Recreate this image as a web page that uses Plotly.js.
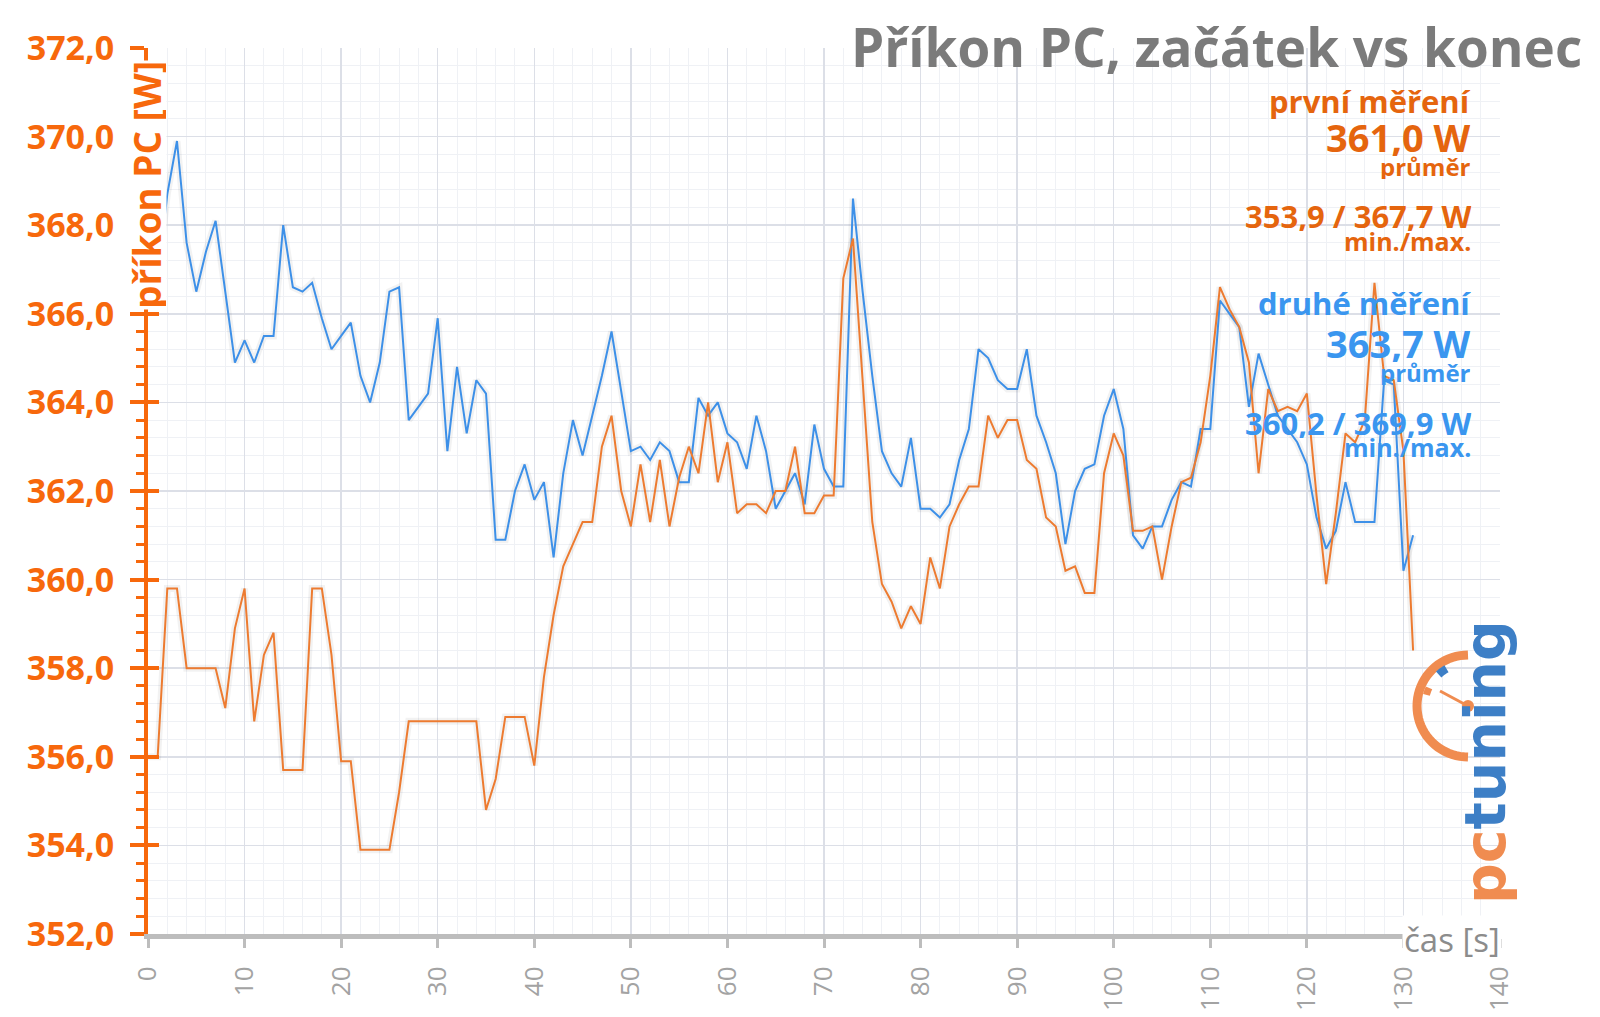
<!DOCTYPE html>
<html><head><meta charset="utf-8">
<script src="https://cdn.plot.ly/plotly-3.0.1.min.js"></script>
<style>html,body{margin:0;padding:0;background:#fff}#chart{width:1600px;height:1017px}</style>
</head><body><div id="chart"></div>
<script>
// time axis [s]
const timeSec = [0,1,2,3,4,5,6,7,8,9,10,11,12,13,14,15,16,17,18,19,20,21,22,23,24,25,26,27,28,29,30,31,32,33,34,35,36,37,38,39,40,41,42,43,44,45,46,47,48,49,50,51,52,53,54,55,56,57,58,59,60,61,62,63,64,65,66,67,68,69,70,71,72,73,74,75,76,77,78,79,80,81,82,83,84,85,86,87,88,89,90,91,92,93,94,95,96,97,98,99,100,101,102,103,104,105,106,107,108,109,110,111,112,113,114,115,116,117,118,119,120,121,122,123,124,125,126,127,128,129,130,131];

// první měření (first measurement) [W]
const prvniMereni = [356.0,356.0,359.8,359.8,358.0,358.0,358.0,358.0,357.1,358.9,
359.8,356.8,358.3,358.8,355.7,355.7,355.7,359.8,359.8,358.3,
355.9,355.9,353.9,353.9,353.9,353.9,355.2,356.8,356.8,356.8,
356.8,356.8,356.8,356.8,356.8,354.8,355.5,356.9,356.9,356.9,
355.8,357.8,359.2,360.3,360.8,361.3,361.3,363.0,363.7,362.0,
361.2,362.6,361.3,362.7,361.2,362.3,363.0,362.4,364.0,362.2,
363.1,361.5,361.7,361.7,361.5,362.0,362.0,363.0,361.5,361.5,
361.9,361.9,366.8,367.7,364.5,361.3,359.9,359.5,358.9,359.4,
359.0,360.5,359.8,361.2,361.7,362.1,362.1,363.7,363.2,363.6,
363.6,362.7,362.5,361.4,361.2,360.2,360.3,359.7,359.7,362.4,
363.3,362.8,361.1,361.1,361.2,360.0,361.2,362.2,362.3,363.1,
364.6,366.6,366.1,365.7,364.9,362.4,364.3,363.8,363.9,363.8,
364.2,361.9,359.9,361.5,363.3,363.1,363.6,366.7,364.6,364.5,
362.9,358.4];

// druhé měření (second measurement) [W]
const druheMereni = [367.8,366.8,368.7,369.9,367.6,366.5,367.4,368.1,366.5,364.9,
365.4,364.9,365.5,365.5,368.0,366.6,366.5,366.7,365.9,365.2,
365.5,365.8,364.6,364.0,364.9,366.5,366.6,363.6,363.9,364.2,
365.9,362.9,364.8,363.3,364.5,364.2,360.9,360.9,362.0,362.6,
361.8,362.2,360.5,362.4,363.6,362.8,363.7,364.6,365.6,364.3,
362.9,363.0,362.7,363.1,362.9,362.2,362.2,364.1,363.7,364.0,
363.3,363.1,362.5,363.7,362.9,361.6,362.0,362.4,361.7,363.5,
362.5,362.1,362.1,368.6,366.5,364.6,362.9,362.4,362.1,363.2,
361.6,361.6,361.4,361.7,362.7,363.4,365.2,365.0,364.5,364.3,
364.3,365.2,363.7,363.1,362.4,360.8,362.0,362.5,362.6,363.7,
364.3,363.4,361.0,360.7,361.2,361.2,361.8,362.2,362.1,363.4,
363.4,366.3,366.0,365.7,363.9,365.1,364.4,363.7,363.4,363.1,
362.6,361.4,360.7,361.1,362.2,361.3,361.3,361.3,364.5,364.4,
360.2,361.0];

const yTickVals = [352,354,356,358,360,362,364,366,368,370,372];
const xTickVals = [0,10,20,30,40,50,60,70,80,90,100,110,120,130,140];

const chartTitle = 'Příkon PC, začátek vs konec';
const yTitle = 'příkon PC [W]';
const xTitle = 'čas [s]';
const series1Name = 'první měření';
const series2Name = 'druhé měření';
const series1Avg = '361,0 W';
const series2Avg = '363,7 W';
const series1MinMax = '353,9 / 367,7 W';
const series2MinMax = '360,2 / 369,9 W';
const avgLabel = 'průměr';
const minMaxLabel = 'min./max.';

const F = 'Open Sans, sans-serif';
const AXIS_OR = '#f7680c';
const LINE_OR = '#ed7b30';
const LINE_BL = '#3d90e8';
const TXT_OR = '#e5650e';
const TXT_BL = '#3a96ef';
const GRID = '#dcdfe7';
const GRID_MINOR = '#eff1f5';

// plot area pixel frame: left 148, right 1500, top 48, bottom 934
const PL = 148, PR = 1500, PT = 48, PB = 934;
const px = X => (X - PL) / (PR - PL);
const py = Y => (PB - Y) / (PB - PT);

const traces = [
  {x: timeSec, y: druheMereni, type: 'scatter', mode: 'lines', hoverinfo: 'skip',
   line: {color: 'rgba(0,0,0,0.05)', width: 7}},
  {x: timeSec, y: prvniMereni, type: 'scatter', mode: 'lines', hoverinfo: 'skip',
   line: {color: 'rgba(0,0,0,0.05)', width: 7}},
  {x: timeSec, y: druheMereni, type: 'scatter', mode: 'lines', name: series2Name,
   line: {color: LINE_BL, width: 2}},
  {x: timeSec, y: prvniMereni, type: 'scatter', mode: 'lines', name: series1Name,
   line: {color: LINE_OR, width: 2}},
  {x: [0], y: [352], yaxis: 'y2', type: 'scatter', mode: 'markers', marker: {opacity: 0}, hoverinfo: 'skip', showlegend: false}
];

function ann(text, Y, size, color, hf) {
  return {xref: 'paper', yref: 'paper', x: px(1472), y: py(Y), xanchor: 'right', yanchor: 'middle',
    text: text, showarrow: false, height: Math.round(size * hf), borderpad: 0,
    font: {family: F, size: size, color: color, weight: 700}};
}

const annotations = [
  {xref: 'paper', yref: 'paper', x: px(1584), y: py(46), xanchor: 'right', yanchor: 'middle',
   text: chartTitle, showarrow: false, font: {family: F, size: 53, color: '#7b7b7b', weight: 700}},
  ann(series1Name, 101, 31, TXT_OR, 1.15),
  ann(series1Avg, 137, 38, TXT_OR, 1.0),
  ann(avgLabel, 166, 24, TXT_OR, 1.1),
  ann(series1MinMax, 216, 31, TXT_OR, 1.0),
  ann(minMaxLabel, 240, 25, TXT_OR, 1.0),
  ann(series2Name, 303, 31, TXT_BL, 1.15),
  ann(series2Avg, 343, 38, TXT_BL, 1.0),
  ann(avgLabel, 372, 24, TXT_BL, 1.1),
  ann(series2MinMax, 422, 31, TXT_BL, 1.0),
  ann(minMaxLabel, 447, 25, TXT_BL, 1.0),
  // y-axis title over the axis line
  {xref: 'paper', yref: 'paper', x: px(146), y: py(60), xanchor: 'center', yanchor: 'top',
   text: yTitle, textangle: -90, showarrow: false, bgcolor: '#ffffff', borderpad: 0, height: 40,
   font: {family: F, size: 37, color: AXIS_OR, weight: 700}},
  // x-axis title
  {xref: 'paper', yref: 'paper', x: px(1502), y: py(939), xanchor: 'right', yanchor: 'middle',
   text: xTitle, showarrow: false, bgcolor: '#ffffff', borderpad: 1,
   font: {family: F, size: 33, color: '#8c8c8c'}},
  // logo text
  {xref: 'paper', yref: 'paper', x: px(1485), y: py(762), xanchor: 'center', yanchor: 'middle',
   text: '<span style="color:#f08c50">pc</span><span style="color:#3d7fc6">tuning</span>',
   textangle: -90, showarrow: false,
   font: {family: 'DejaVu Sans, sans-serif', size: 57, weight: 700}}
];

// logo gauge decoration (pixel offsets around an anchor)
function arcPath(r, a0, a1, n) {
  let d = '';
  for (let i = 0; i <= n; i++) {
    const a = (a0 + (a1 - a0) * i / n) * Math.PI / 180;
    d += (i === 0 ? 'M' : 'L') + (r * Math.cos(a)).toFixed(2) + ',' + (r * Math.sin(a)).toFixed(2);
  }
  return d;
}
const gx = px(1468), gy = py(706);
const gShape = (path, color, w) => ({type: 'path', xref: 'paper', yref: 'paper', xsizemode: 'pixel', ysizemode: 'pixel',
  xanchor: gx, yanchor: gy, path: path, line: {color: color, width: w}, layer: 'above'});
const shapes = [
  gShape(arcPath(51, 90, 270, 40), '#f08c50', 9),
  gShape(arcPath(43, 120, 133, 6), '#3d7fc6', 8),
  gShape(arcPath(43, 155, 165, 4), '#f08c50', 7),
  gShape('M-28,15L0,0', '#f08c50', 3),
  {type: 'circle', xref: 'paper', yref: 'paper', xsizemode: 'pixel', ysizemode: 'pixel',
   xanchor: gx, yanchor: gy, x0: -6, x1: 6, y0: -6, y1: 6, fillcolor: '#f08c50', line: {width: 0}, layer: 'above'}
];

const layout = {
  width: 1600, height: 1017,
  margin: {l: PL, r: 1600 - PR, t: PT, b: 1017 - PB},
  paper_bgcolor: '#ffffff', plot_bgcolor: '#ffffff',
  showlegend: false,
  separators: ', ',
  xaxis: {
    range: [0, 140], tickvals: xTickVals, ticktext: xTickVals.map(String),
    tickangle: -90, tickfont: {family: F, size: 26, color: '#a3a3a3'},
    showgrid: true, gridcolor: GRID, gridwidth: 1.5,
    minor: {dtick: 2, showgrid: true, gridcolor: GRID_MINOR, gridwidth: 1, ticks: ''},
    showline: true, linecolor: '#bdbdbd', linewidth: 5,
    ticks: 'outside', ticklen: 9, tickwidth: 3, tickcolor: '#bdbdbd',
    ticklabelstandoff: 8, zeroline: false, fixedrange: true
  },
  yaxis: {
    range: [352, 372], tickvals: yTickVals, tickformat: '.1f',
    tickfont: {family: F, size: 34, color: AXIS_OR, weight: 700},
    showgrid: true, gridcolor: GRID, gridwidth: 1.5,
    minor: {dtick: 0.4, showgrid: true, gridcolor: GRID_MINOR, gridwidth: 1,
            ticks: 'outside', ticklen: 8, tickwidth: 3, tickcolor: AXIS_OR},
    showline: true, linecolor: AXIS_OR, linewidth: 4,
    ticks: 'outside', ticklen: 14, tickwidth: 4, tickcolor: AXIS_OR,
    ticklabelstandoff: 9, zeroline: false, fixedrange: true
  },
  yaxis2: {
    overlaying: 'y', side: 'left', range: [352, 372], tickvals: yTickVals,
    showticklabels: false, showgrid: false, showline: false, zeroline: false,
    ticks: 'inside', ticklen: 11, tickwidth: 4, tickcolor: AXIS_OR, fixedrange: true
  },
  annotations: annotations,
  shapes: shapes
};

Plotly.newPlot('chart', traces, layout, {displayModeBar: false, staticPlot: true});
</script>
</body></html>
